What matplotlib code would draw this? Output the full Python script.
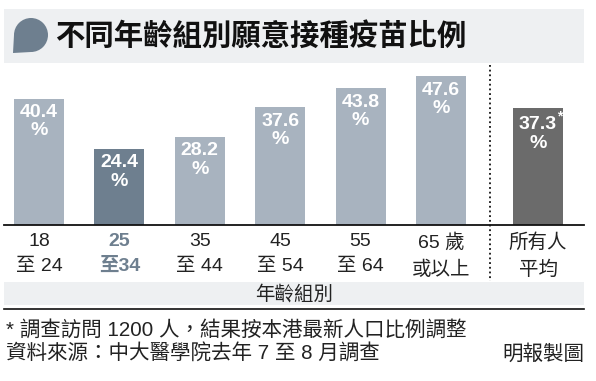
import matplotlib.pyplot as plt
import matplotlib.patches as mpatches
from matplotlib.lines import Line2D

# --- data ---
groups = ["18\n至 24", "25\n至34", "35\n至 44", "45\n至 54", "55\n至 64", "65 歲\n或以上"]
values = [40.4, 24.4, 28.2, 37.6, 43.8, 47.6]
avg_label = "所有人\n平均"
avg_value = 37.3
title = "不同年齡組別願意接種疫苗比例"
xlabel = "年齡組別"
note1 = "* 調查訪問 1200 人，結果按本港最新人口比例調整"
note2 = "資料來源：中大醫學院去年 7 至 8 月調查"
credit = "明報製圖"

light = "#a8b3bf"
dark_blue = "#6e7f8f"
grey = "#6b6b6b"
band = "#eef0f2"
fonts = ["Liberation Sans", "Noto Sans CJK TC"]
plt.rcParams['font.family'] = fonts

W, H = 596, 381
fig = plt.figure(figsize=(W / 100, H / 100), dpi=100)

# overlay in pixel coords for decorations
bg = fig.add_axes([0, 0, 1, 1], zorder=0)
bg.set_xlim(0, W)
bg.set_ylim(H, 0)
bg.axis("off")

# title band with speech bubble
bg.add_patch(mpatches.Rectangle((4, 9), 580, 54, color=band, lw=0))
bg.add_patch(mpatches.Ellipse((31, 35), 34, 34, color=dark_blue, lw=0))
bg.add_patch(mpatches.Polygon([[14, 35], [31, 52], [13, 53]], color=dark_blue, lw=0))
bg.text(55, 36, title, fontsize=21.2, fontweight="bold", va="center", ha="left",
        family=["Noto Sans CJK TC"], color="#111111")

# x axis title band
bg.add_patch(mpatches.Rectangle((4, 282), 580, 23, color=band, lw=0))
bg.text(294, 294, xlabel, fontsize=14, va="center", ha="center", color="#222222")
bg.add_line(Line2D([4, 584], [309, 309], color="#111111", lw=1.2))

# notes
bg.text(6, 330, note1, fontsize=14.8, va="center", ha="left", color="#222222")
bg.text(6, 354, note2, fontsize=14.8, va="center", ha="left", color="#222222")
bg.text(584, 354, credit, fontsize=14.8, va="center", ha="right", color="#222222")

# dotted separator
bg.add_line(Line2D([490, 490], [65, 281], color="#111111", lw=1.3, ls=(0, (1, 1.6))))

# --- bars ---
step = 80.4
ax = fig.add_axes([4 / W, 156 / H, 580 / W, 159 / H], zorder=1)
ax.patch.set_alpha(0)
xs = list(range(len(values)))
avg_x = (538 - 39) / step
colors = [light] * len(values)
colors[1] = dark_blue
ax.bar(xs, values, width=0.62, color=colors, zorder=2)
ax.bar([avg_x], [avg_value], width=0.62, color=grey, zorder=2)
ax.set_xlim((4 - 39) / step, (584 - 39) / step)
ax.set_ylim(0, 159 / 3.13)

for x, v in zip(xs, values):
    ax.text(x, v - 1.8, f"{v}\n%", ha="center", va="top", color="white",
            fontsize=14, fontweight="bold", linespacing=1.1)
ax.text(avg_x, avg_value - 2.6, f"{avg_value}\n%", ha="center", va="top", color="white",
        fontsize=14, fontweight="bold", linespacing=1.1)
ax.text(avg_x + 0.235, avg_value - 0.4, "*", ha="left", va="top", color="white",
        fontsize=10, fontweight="bold")

ax.set_xticks(xs + [avg_x])
ax.set_xticklabels(groups + [avg_label], fontsize=14, linespacing=1.6)
ax.tick_params(axis="x", length=0, pad=6, colors="#222222")
ticks = ax.get_xticklabels()
ticks[1].set_color(dark_blue)
ticks[1].set_fontweight("bold")
ax.set_yticks([])
for s in ["top", "left", "right"]:
    ax.spines[s].set_visible(False)
ax.spines["bottom"].set_linewidth(1.3)
ax.spines["bottom"].set_color("#111111")

fig.savefig("out.png", dpi=100)
